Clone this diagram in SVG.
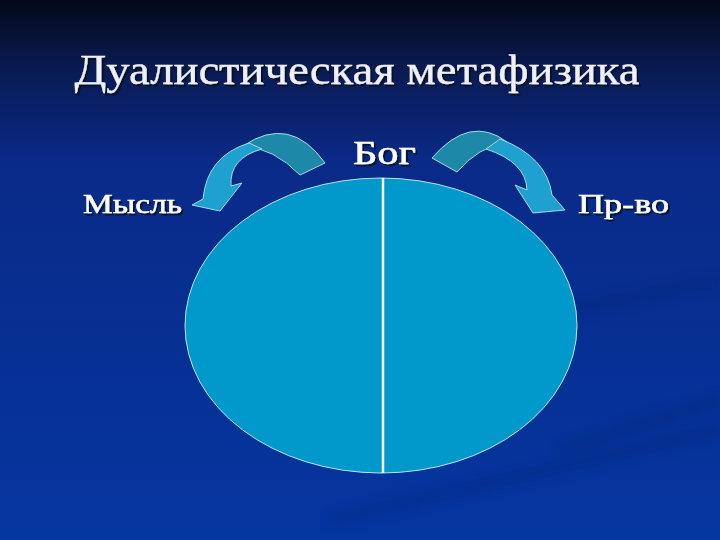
<svg xmlns="http://www.w3.org/2000/svg" width="720" height="540" viewBox="0 0 720 540">
  <defs>
    <linearGradient id="bg" x1="0" y1="0" x2="0" y2="1">
      <stop offset="0" stop-color="#040818"/>
      <stop offset="0.12" stop-color="#0a1a50"/>
      <stop offset="0.3" stop-color="#0a2a88"/>
      <stop offset="1" stop-color="#0436a0"/>
    </linearGradient>
    <filter id="blur" x="-20%" y="-50%" width="140%" height="200%">
      <feGaussianBlur stdDeviation="6"/>
    </filter>
    <filter id="shadow" x="-10%" y="-30%" width="120%" height="160%">
      <feDropShadow dx="2" dy="2" stdDeviation="0.6" flood-color="#000818" flood-opacity="0.75"/>
    </filter>
    <style>
      .t { font-family: "Liberation Serif", "DejaVu Serif", serif; fill: #ffffff; filter: url(#shadow); }
      .lbl { stroke: #ffffff; stroke-width: 0.5; }
      .ttl { fill: #f0f0fa; stroke: #f0f0fa; stroke-width: 0.3; }
      .dark { fill: #1d88a8; stroke: #9fdcf0; stroke-width: 1; }
      .light { fill: #1ea0d0; stroke: #9fdcf0; stroke-width: 1; }
    </style>
  </defs>
  <rect width="720" height="540" fill="url(#bg)"/>
  <g opacity="0.25" filter="url(#blur)" stroke="#001a60" stroke-width="10" fill="none">
    <path d="M330,520 L720,430"/>
    <path d="M570,310 L720,280"/>
    <path d="M560,450 L720,400"/>
  </g>

  <g id="title">
    <text class="t ttl" x="357" y="84" font-size="42" text-anchor="middle" textLength="565" lengthAdjust="spacingAndGlyphs">Дуалистическая метафизика</text>
  </g>

  <g id="circle">
    <ellipse cx="381" cy="325.5" rx="196" ry="147.5" fill="#0199cb" stroke="#b8e6f5" stroke-width="1"/>
    <line x1="383" y1="178" x2="383" y2="473" stroke="#ffffff" stroke-width="2.5"/>
  </g>

  <g id="bog">
    <text class="t lbl" x="384.5" y="164" font-size="33" text-anchor="middle" textLength="63" lengthAdjust="spacingAndGlyphs">Бог</text>
  </g>
  <g id="mysl">
    <text class="t lbl" x="132.5" y="213" font-size="27" text-anchor="middle" textLength="99" lengthAdjust="spacingAndGlyphs">Мысль</text>
  </g>
  <g id="prvo">
    <text class="t lbl" x="623.5" y="213" font-size="27" text-anchor="middle" textLength="91" lengthAdjust="spacingAndGlyphs">Пр-во</text>
  </g>

  <g id="connectors">
    <g id="arrow-left">
      <path class="dark" d="M325,163 Q290,114 243,146 Q274,148 300,175 Z"/>
      <path class="light" d="M249,143 Q207,156 203,199 L192,205 L220,211 L242,183 L231,186 Q229,158 262,149 Z"/>
    </g>
    <g id="arrow-right">
      <path class="dark" d="M432,158 Q470,114 507,142 Q478,147 457,172 Z"/>
      <path class="light" d="M500,139 Q547,157 552,195 L565,210 L533,213 L515,185 L527,190 Q526,162 486,149 Z"/>
    </g>
  </g>
</svg>
